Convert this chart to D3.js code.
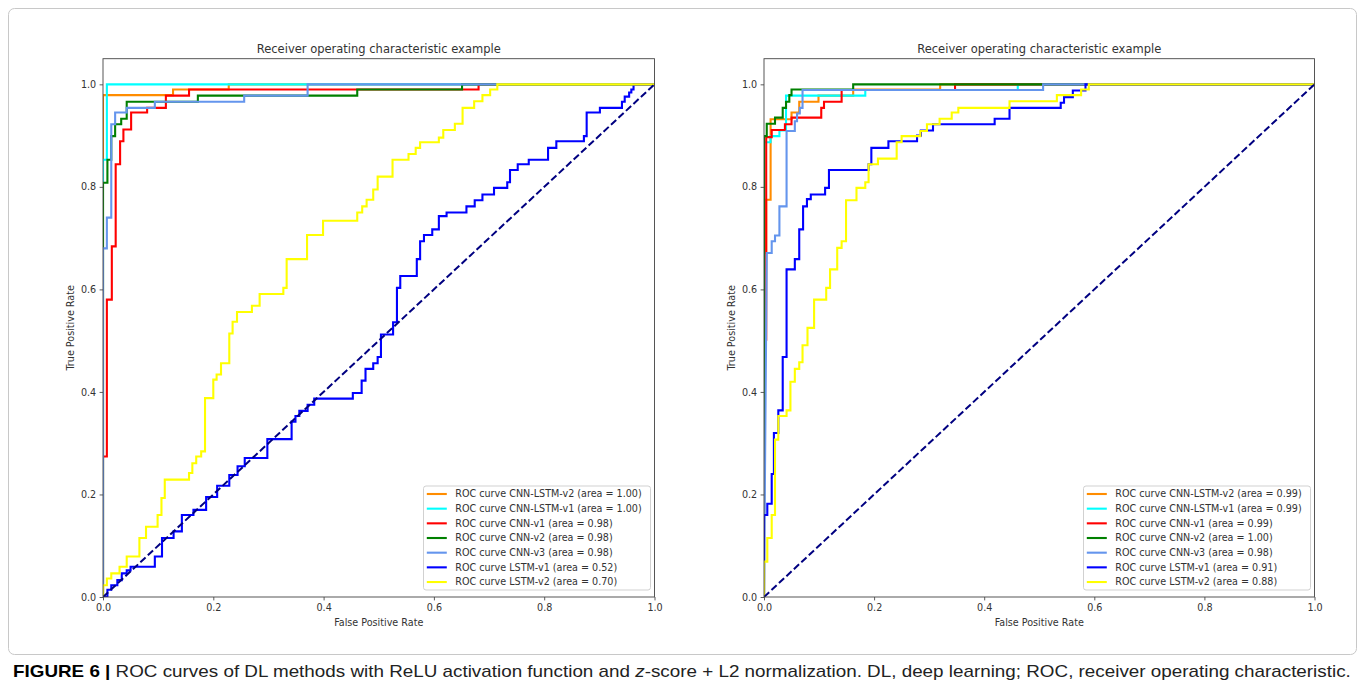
<!DOCTYPE html>
<html><head><meta charset="utf-8">
<script src="https://cdn.jsdelivr.net/npm/d3@7"></script>
<style>body{margin:0;background:#fff}</style>
</head><body>
<svg id="c" width="1365" height="698"></svg>
<script>
// ---------------- DATA ----------------
const tickValues = [0, 0.2, 0.4, 0.6, 0.8, 1.0];
const titleText = "Receiver operating characteristic example";
const seriesNames = ["CNN-LSTM-v2", "CNN-LSTM-v1", "CNN-v1", "CNN-v2", "CNN-v3", "LSTM-v1", "LSTM-v2"];
const seriesColors = ["#ff8c00", "#00ffff", "#ff0000", "#008000", "#6495ed", "#0000ff", "#ffff00"];
const areasLeft = ["1.00", "1.00", "0.98", "0.98", "0.98", "0.52", "0.70"];
const areasRight = ["0.99", "0.99", "0.99", "1.00", "0.98", "0.91", "0.88"];
const chance = [[0, 0], [1, 1]];

// Left panel ROC points [fpr, tpr]
const L_cnnlstm2 = [[0,0],[0,0.979],[0.127,0.979],[0.127,0.99],[0.228,0.99],[0.228,1],[1,1]];
const L_cnnlstm1 = [[0,0],[0,0.853],[0.007,0.853],[0.007,1],[1,1]];
const L_cnn1 = [[0,0],[0,0.274],[0.007,0.274],[0.007,0.58],[0.016,0.58],[0.016,0.684],[0.023,0.684],[0.023,0.844],[0.031,0.844],[0.031,0.889],[0.037,0.889],[0.037,0.912],[0.051,0.912],[0.051,0.945],[0.08,0.945],[0.08,0.954],[0.114,0.954],[0.114,0.978],[0.156,0.978],[0.156,0.99],[0.681,0.99],[0.681,1],[1,1]];
const L_cnn2 = [[0,0],[0,0.808],[0.008,0.808],[0.008,0.853],[0.015,0.853],[0.015,0.899],[0.022,0.899],[0.022,0.922],[0.033,0.922],[0.033,0.933],[0.043,0.933],[0.043,0.966],[0.172,0.966],[0.172,0.978],[0.461,0.978],[0.461,0.99],[0.651,0.99],[0.651,1],[1,1]];
const L_cnn3 = [[0,0],[0,0.68],[0.007,0.68],[0.007,0.74],[0.015,0.74],[0.015,0.922],[0.022,0.922],[0.022,0.945],[0.043,0.945],[0.043,0.954],[0.094,0.954],[0.094,0.966],[0.256,0.966],[0.256,0.978],[0.371,0.978],[0.371,1],[1,1]];
const L_lstm1 = [[0,0],[0.008,0],[0.008,0.014],[0.015,0.014],[0.015,0.023],[0.026,0.023],[0.026,0.033],[0.034,0.033],[0.034,0.046],[0.043,0.046],[0.043,0.052],[0.05,0.052],[0.05,0.059],[0.094,0.059],[0.094,0.079],[0.107,0.079],[0.107,0.115],[0.128,0.115],[0.128,0.128],[0.143,0.128],[0.143,0.16],[0.164,0.16],[0.164,0.17],[0.187,0.17],[0.187,0.195],[0.207,0.195],[0.207,0.217],[0.229,0.217],[0.229,0.238],[0.244,0.238],[0.244,0.255],[0.257,0.255],[0.257,0.271],[0.298,0.271],[0.298,0.308],[0.342,0.308],[0.342,0.342],[0.349,0.342],[0.349,0.353],[0.356,0.353],[0.356,0.363],[0.371,0.363],[0.371,0.375],[0.383,0.375],[0.383,0.387],[0.453,0.387],[0.453,0.398],[0.469,0.398],[0.469,0.422],[0.476,0.422],[0.476,0.445],[0.49,0.445],[0.49,0.456],[0.498,0.456],[0.498,0.468],[0.504,0.468],[0.504,0.512],[0.526,0.512],[0.526,0.536],[0.533,0.536],[0.533,0.603],[0.539,0.603],[0.539,0.626],[0.569,0.626],[0.569,0.659],[0.575,0.659],[0.575,0.694],[0.582,0.694],[0.582,0.706],[0.597,0.706],[0.597,0.717],[0.609,0.717],[0.609,0.743],[0.623,0.743],[0.623,0.75],[0.659,0.75],[0.659,0.762],[0.674,0.762],[0.674,0.774],[0.688,0.774],[0.688,0.785],[0.709,0.785],[0.709,0.798],[0.733,0.798],[0.733,0.809],[0.738,0.809],[0.738,0.833],[0.752,0.833],[0.752,0.844],[0.772,0.844],[0.772,0.853],[0.807,0.853],[0.807,0.876],[0.822,0.876],[0.822,0.889],[0.872,0.889],[0.872,0.899],[0.877,0.899],[0.877,0.945],[0.901,0.945],[0.901,0.954],[0.941,0.954],[0.941,0.966],[0.946,0.966],[0.946,0.976],[0.954,0.976],[0.954,0.984],[0.958,0.984],[0.958,0.99],[0.962,0.99],[0.962,1],[1,1]];
const L_lstm2 = [[0,0],[0,0.023],[0.007,0.023],[0.007,0.036],[0.015,0.036],[0.015,0.046],[0.03,0.046],[0.03,0.059],[0.043,0.059],[0.043,0.079],[0.066,0.079],[0.066,0.115],[0.078,0.115],[0.078,0.137],[0.099,0.137],[0.099,0.16],[0.106,0.16],[0.106,0.193],[0.112,0.193],[0.112,0.229],[0.156,0.229],[0.156,0.242],[0.162,0.242],[0.162,0.261],[0.169,0.261],[0.169,0.274],[0.178,0.274],[0.178,0.284],[0.185,0.284],[0.185,0.388],[0.2,0.388],[0.2,0.424],[0.206,0.424],[0.206,0.434],[0.214,0.434],[0.214,0.456],[0.229,0.456],[0.229,0.514],[0.235,0.514],[0.235,0.537],[0.243,0.537],[0.243,0.556],[0.27,0.556],[0.27,0.568],[0.284,0.568],[0.284,0.591],[0.327,0.591],[0.327,0.603],[0.333,0.603],[0.333,0.659],[0.37,0.659],[0.37,0.706],[0.399,0.706],[0.399,0.734],[0.461,0.734],[0.461,0.75],[0.47,0.75],[0.47,0.762],[0.478,0.762],[0.478,0.775],[0.49,0.775],[0.49,0.795],[0.498,0.795],[0.498,0.82],[0.525,0.82],[0.525,0.853],[0.554,0.853],[0.554,0.864],[0.567,0.864],[0.567,0.876],[0.575,0.876],[0.575,0.887],[0.609,0.887],[0.609,0.896],[0.617,0.896],[0.617,0.911],[0.638,0.911],[0.638,0.923],[0.652,0.923],[0.652,0.954],[0.673,0.954],[0.673,0.967],[0.688,0.967],[0.688,0.979],[0.702,0.979],[0.702,0.99],[0.715,0.99],[0.715,1],[1,1]];

// Right panel ROC points [fpr, tpr]
const R_cnnlstm2 = [[0,0],[0,0.671],[0.004,0.671],[0.004,0.775],[0.012,0.775],[0.012,0.932],[0.05,0.932],[0.05,0.945],[0.064,0.945],[0.064,0.966],[0.099,0.966],[0.099,0.978],[0.162,0.978],[0.162,0.99],[0.32,0.99],[0.32,1],[1,1]];
const R_cnnlstm1 = [[0,0],[0,0.887],[0.012,0.887],[0.012,0.899],[0.028,0.899],[0.028,0.91],[0.04,0.91],[0.04,0.978],[0.184,0.978],[0.184,0.989],[0.461,0.989],[0.461,1],[1,1]];
const R_cnn1 = [[0,0],[0,0.502],[0.004,0.502],[0.004,0.897],[0.014,0.897],[0.014,0.911],[0.038,0.911],[0.038,0.922],[0.05,0.922],[0.05,0.935],[0.104,0.935],[0.104,0.954],[0.109,0.954],[0.109,0.966],[0.141,0.966],[0.141,0.989],[0.347,0.989],[0.347,1],[1,1]];
const R_cnn2 = [[0,0],[0,0.899],[0.005,0.899],[0.005,0.923],[0.02,0.923],[0.02,0.935],[0.034,0.935],[0.034,0.954],[0.04,0.954],[0.04,0.966],[0.046,0.966],[0.046,0.979],[0.05,0.979],[0.05,0.99],[0.162,0.99],[0.162,1],[1,1]];
const R_cnn3 = [[0,0],[0.005,0.671],[0.014,0.671],[0.014,0.694],[0.02,0.694],[0.02,0.705],[0.028,0.705],[0.028,0.762],[0.041,0.762],[0.041,0.909],[0.056,0.909],[0.056,0.928],[0.06,0.928],[0.06,0.943],[0.065,0.943],[0.065,0.954],[0.07,0.954],[0.07,0.989],[0.507,0.989],[0.507,1],[1,1]];
const R_lstm1 = [[0,0],[0,0.16],[0.006,0.16],[0.006,0.182],[0.014,0.182],[0.014,0.24],[0.018,0.24],[0.018,0.32],[0.026,0.32],[0.026,0.364],[0.034,0.364],[0.034,0.468],[0.041,0.468],[0.041,0.639],[0.056,0.639],[0.056,0.659],[0.064,0.659],[0.064,0.717],[0.071,0.717],[0.071,0.762],[0.078,0.762],[0.078,0.776],[0.085,0.776],[0.085,0.785],[0.111,0.785],[0.111,0.798],[0.118,0.798],[0.118,0.833],[0.19,0.833],[0.19,0.844],[0.195,0.844],[0.195,0.876],[0.226,0.876],[0.226,0.889],[0.278,0.889],[0.278,0.9],[0.285,0.9],[0.285,0.91],[0.307,0.91],[0.307,0.922],[0.419,0.922],[0.419,0.933],[0.446,0.933],[0.446,0.954],[0.539,0.954],[0.539,0.964],[0.545,0.964],[0.545,0.975],[0.561,0.975],[0.561,0.988],[0.584,0.988],[0.584,1],[1,1]];
const R_lstm2 = [[0,0],[0,0.069],[0.006,0.069],[0.006,0.115],[0.014,0.115],[0.014,0.16],[0.02,0.16],[0.02,0.307],[0.026,0.307],[0.026,0.353],[0.041,0.353],[0.041,0.364],[0.048,0.364],[0.048,0.42],[0.056,0.42],[0.056,0.445],[0.064,0.445],[0.064,0.458],[0.07,0.458],[0.07,0.491],[0.079,0.491],[0.079,0.525],[0.091,0.525],[0.091,0.58],[0.113,0.58],[0.113,0.603],[0.12,0.603],[0.12,0.639],[0.133,0.639],[0.133,0.681],[0.141,0.681],[0.141,0.694],[0.149,0.694],[0.149,0.774],[0.168,0.774],[0.168,0.798],[0.184,0.798],[0.184,0.809],[0.19,0.809],[0.19,0.844],[0.207,0.844],[0.207,0.855],[0.241,0.855],[0.241,0.887],[0.25,0.887],[0.25,0.899],[0.284,0.899],[0.284,0.909],[0.296,0.909],[0.296,0.922],[0.319,0.922],[0.319,0.933],[0.341,0.933],[0.341,0.945],[0.353,0.945],[0.353,0.954],[0.446,0.954],[0.446,0.967],[0.532,0.967],[0.532,0.979],[0.576,0.979],[0.576,0.99],[0.59,0.99],[0.59,1],[1,1]];

const leftSeries = [L_cnnlstm2, L_cnnlstm1, L_cnn1, L_cnn2, L_cnn3, L_lstm1, L_lstm2];
const rightSeries = [R_cnnlstm2, R_cnnlstm1, R_cnn1, R_cnn2, R_cnn3, R_lstm1, R_lstm2];

// ---------------- DRAWING ----------------
const svg = d3.select("#c");
svg.append("rect").attr("width", 1365).attr("height", 698).attr("fill", "#fff");
svg.append("rect").attr("x", 8.5).attr("y", 8.5).attr("width", 1348).attr("height", 646)
  .attr("rx", 6).attr("fill", "none").attr("stroke", "#c8c8c8").attr("stroke-width", 1);

const FONT = "'DejaVu Sans', sans-serif";
const FS = 9.6;
const yTop = 58.7, yBot = 597;

function panel(idx, x0, x1, series, areas) {
  const x = d3.scaleLinear().domain([0, 1]).range([x0, x1]);
  const y = d3.scaleLinear().domain([0, 1.05]).range([yBot, yTop]);
  const g = svg.append("g");
  const clipId = "clip" + idx;
  g.append("clipPath").attr("id", clipId).append("rect")
    .attr("x", x0).attr("y", yTop).attr("width", x1 - x0).attr("height", yBot - yTop);
  const line = d3.line().x(d => x(d[0])).y(d => y(d[1]));
  const plot = g.append("g").attr("clip-path", `url(#${clipId})`);
  series.forEach((s, i) => {
    plot.append("path").datum(s).attr("d", line).attr("fill", "none")
      .attr("stroke", seriesColors[i]).attr("stroke-width", 2.1)
      .attr("stroke-linejoin", "miter").attr("stroke-linecap", "butt");
  });
  plot.append("path").datum(chance).attr("d", line).attr("fill", "none")
    .attr("stroke", "#000080").attr("stroke-width", 2).attr("stroke-dasharray", "7.1,3.1");

  // axes
  const xa = d3.axisBottom(x).tickValues(tickValues).tickFormat(d3.format(".1f")).tickSize(3.4).tickPadding(3.4);
  const ya = d3.axisLeft(y).tickValues(tickValues).tickFormat(d3.format(".1f")).tickSize(3.4).tickPadding(3.4);
  const gx = g.append("g").attr("transform", `translate(0,${yBot})`).call(xa);
  const gy = g.append("g").attr("transform", `translate(${x0},0)`).call(ya);
  [gx, gy].forEach(a => {
    a.select(".domain").remove();
    a.selectAll("line").attr("stroke", "#333").attr("stroke-width", 0.8);
    a.selectAll("text").attr("fill", "#333").attr("font-family", FONT).attr("font-size", FS);
  });
  // frame
  g.append("rect").attr("x", x0).attr("y", yTop).attr("width", x1 - x0).attr("height", yBot - yTop)
    .attr("fill", "none").attr("stroke", "#444").attr("stroke-width", 0.9);

  // labels
  const cx = (x0 + x1) / 2;
  g.append("text").attr("x", cx).attr("y", 52.5).attr("text-anchor", "middle")
    .attr("font-family", FONT).attr("font-size", 11.5).attr("fill", "#333").text(titleText);
  g.append("text").attr("x", cx).attr("y", 626).attr("text-anchor", "middle")
    .attr("font-family", FONT).attr("font-size", FS).attr("fill", "#333").text("False Positive Rate");
  g.append("text").attr("transform", `translate(${x0 - 29.5},${(yTop + yBot) / 2}) rotate(-90)`)
    .attr("text-anchor", "middle").attr("font-family", FONT).attr("font-size", FS).attr("fill", "#333")
    .text("True Positive Rate");

  // legend
  const bx = x1 - 231, by = 486, bw = 227, bh = 104;
  const lg = g.append("g");
  lg.append("rect").attr("x", bx).attr("y", by).attr("width", bw).attr("height", bh).attr("rx", 2.5)
    .attr("fill", "#fff").attr("fill-opacity", 0.8).attr("stroke", "#cccccc").attr("stroke-width", 0.9);
  seriesNames.forEach((n, i) => {
    const ry = 494 + i * 14.67;
    lg.append("line").attr("x1", bx + 3.3).attr("x2", bx + 23.3).attr("y1", ry).attr("y2", ry)
      .attr("stroke", seriesColors[i]).attr("stroke-width", 2.1);
    lg.append("text").attr("x", bx + 31.8).attr("y", ry + 3.4).attr("font-family", FONT)
      .attr("font-size", FS).attr("fill", "#333").text(`ROC curve ${n} (area = ${areas[i]})`);
  });
}

panel(0, 103, 654.5, leftSeries, areasLeft);
panel(1, 764, 1314.5, rightSeries, areasRight);

// caption
const cap = svg.append("text").attr("x", 13).attr("y", 677.5)
  .attr("font-family", "'Liberation Sans Narrow', 'Liberation Sans', Arial, sans-serif")
  .attr("font-size", 16).attr("fill", "#222");
cap.append("tspan").attr("font-weight", "bold").attr("fill", "#000").text("FIGURE 6 |");
cap.append("tspan").text(" ROC curves of DL methods with ReLU activation function and ");
cap.append("tspan").attr("font-style", "italic").text("z");
cap.append("tspan").text("-score + L2 normalization. DL, deep learning; ROC, receiver operating characteristic.");
const w = cap.node().getBBox().width;
cap.attr("transform", `translate(13,0) scale(${1339 / w},1) translate(-13,0)`);
</script>
</body></html>
